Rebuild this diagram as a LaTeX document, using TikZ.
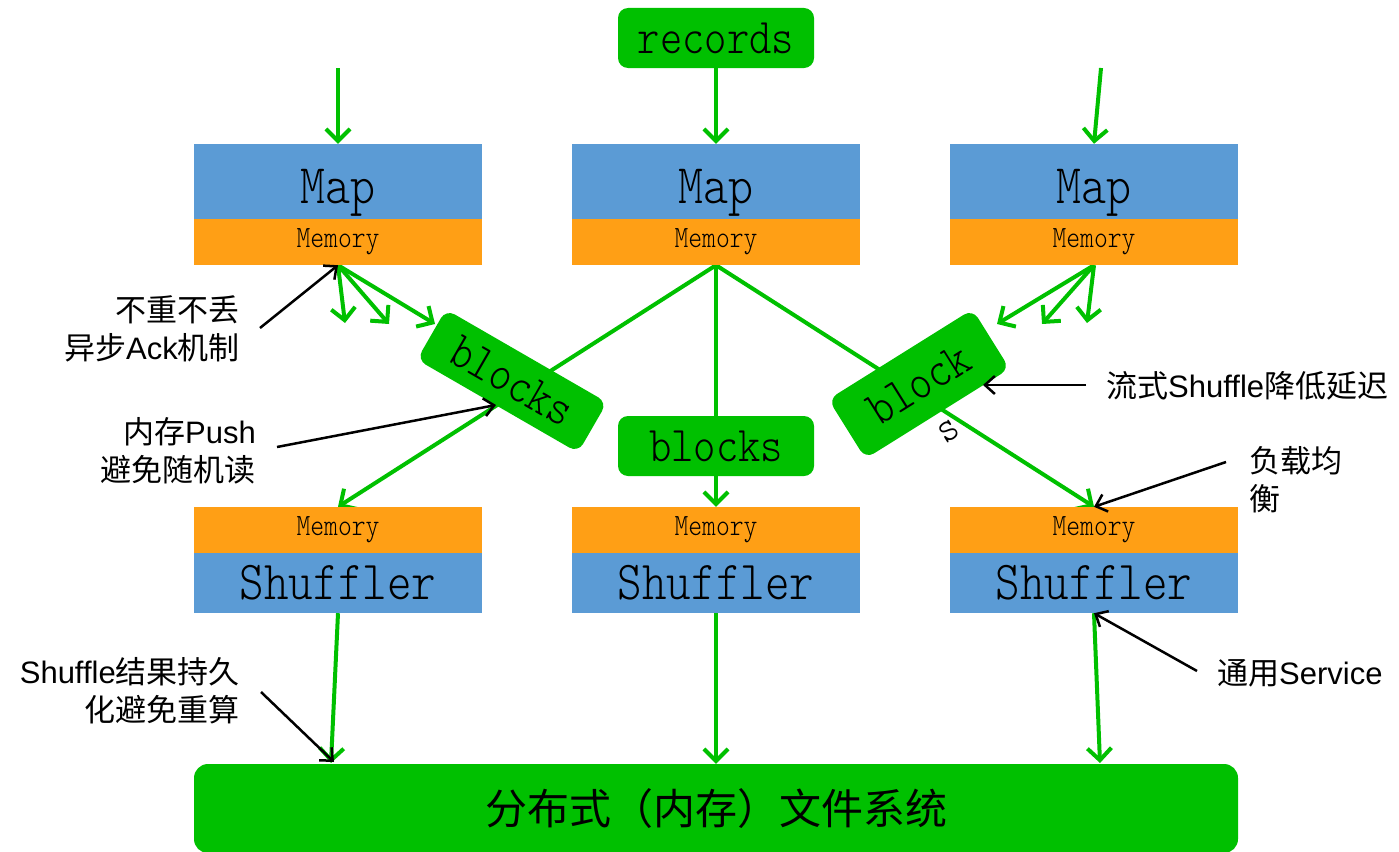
\documentclass[tikz,border=0pt]{standalone}
\usepackage{fontspec}
\setmainfont{Liberation Sans}
\newfontfamily\cjk{Noto Sans CJK SC}
\newfontfamily\boxfont{lmmonolt10-regular.otf}
\usetikzlibrary{arrows.meta,backgrounds}

\definecolor{flowgreen}{HTML}{00C000}
\definecolor{mapblue}{HTML}{5B9BD5}
\definecolor{memorange}{HTML}{FF9F15}

% narrow light typewriter text used inside the boxes
\newcommand{\boxtext}[2]{{\boxfont\fontsize{#1}{#1}\selectfont\scalebox{0.85}[1]{#2}}}

\begin{document}
\begin{tikzpicture}[x=1pt,y=-1pt,
  mapbox/.style={fill=mapblue, minimum width=288pt, minimum height=75pt, inner sep=0pt},
  membox/.style={fill=memorange, minimum width=288pt, minimum height=46pt, inner sep=0pt},
  shufbox/.style={fill=mapblue, minimum width=288pt, minimum height=60pt, inner sep=0pt},
  greenbox/.style={fill=flowgreen, rounded corners=10pt, minimum width=196pt, minimum height=60pt, inner sep=0pt},
  flow/.style={draw=flowgreen, line width=4pt, -{Straight Barb[length=12pt,width=24pt]}},
  note/.style={draw=black, line width=2.5pt, -{Straight Barb[length=10pt,width=18pt]}},
  notetext/.style={inner sep=0pt, font=\fontsize{31}{38}\selectfont}
]
\useasboundingbox (0,0) rectangle (1399,851);

% input records
\node[greenbox] (records) at (716,38) {\boxtext{50}{records}};

% map stages
\foreach \i/\x in {1/338,2/716,3/1094}{
  \node[mapbox] (map\i) at (\x,181.5) {\raisebox{-22pt}[0pt][0pt]{\boxtext{56}{Map}}};
  \node[membox] (mem\i) at (\x,242) {\boxtext{31}{Memory}};
  \node[membox] (smem\i) at (\x,530) {\boxtext{31}{Memory}};
  \node[shufbox] (shuf\i) at (\x,583) {\boxtext{55}{Shuffler}};
}

% blocks in flight
\node[greenbox, rotate=-30, minimum width=186pt, minimum height=58pt] (blkL) at (512,381) {\boxtext{50}{blocks}};
\node[greenbox] (blkM) at (716,446) {\boxtext{50}{blocks}};
\node[greenbox, rotate=32, minimum width=170pt, minimum height=70pt] (blkR) at (919,384) {\boxtext{50}{block}};
\node[rotate=32, inner sep=0pt] (blkRtail) at (949,431) {\boxtext{44}{s}};

% distributed file system
\node[fill=flowgreen, rounded corners=14pt, minimum width=1044pt, minimum height=89pt, inner sep=0pt] (dfs) at (716,808.5)
  {\raisebox{3pt}{\cjk\fontsize{42}{42}\selectfont 分布式（内存）文件系统}};

% free ends of the green flows
\coordinate (inL) at (338,68);
\coordinate (inR) at (1101,68);
\coordinate (f1) at (345,323);
\coordinate (f2) at (389,324);
\coordinate (f3) at (435,324);
\coordinate (f4) at (997,324);
\coordinate (f5) at (1042,324);
\coordinate (f6) at (1087,323);
\coordinate (d1) at (331,763);
\coordinate (d3) at (1100,763);

\begin{pgfonlayer}{background}
  \draw[flow] (inL) -- (map1.north);
  \draw[flow] (records.south) -- (map2.north);
  \draw[flow] (inR) -- (map3.north);
  \draw[flow] (mem1.south) -- (f1);
  \draw[flow] (mem1.south) -- (f2);
  \draw[flow] (mem1.south) -- (f3);
  \draw[flow] (mem3.south) -- (f4);
  \draw[flow] (mem3.south) -- (f5);
  \draw[flow] (mem3.south) -- (f6);
  \draw[flow] (mem2.south) -- (smem1.north);
  \draw[flow] (mem2.south) -- (smem2.north);
  \draw[flow] (mem2.south) -- (smem3.north);
  \draw[flow] (shuf1.south) -- (d1);
  \draw[flow] (shuf2.south) -- (dfs.north);
  \draw[flow] (shuf3.south) -- (d3);
\end{pgfonlayer}

% annotations
\node[notetext, anchor=east, align=right] (n1) at (240,329) {{\cjk 不重不丢}\\{\cjk 异步}Ack{\cjk 机制}};
\node[notetext, anchor=east, align=right] (n2) at (256,451) {{\cjk 内存}Push\\{\cjk 避免随机读}};
\node[notetext, anchor=west] (n3) at (1106,386) {{\cjk 流式}Shuffle{\cjk 降低延迟}};
\node[notetext, anchor=west, align=left] (n4) at (1249,480) {{\cjk 负载均}\\{\cjk 衡}};
\node[notetext, anchor=west] (n5) at (1217,673) {{\cjk 通用}Service};
\node[notetext, anchor=east, align=right] (n6) at (240,691) {Shuffle{\cjk 结果持久}\\{\cjk 化避免重算}};

\coordinate (n1a) at (260,328);
\coordinate (n2a) at (277,447);
\coordinate (n2b) at (496,405);
\coordinate (n3a) at (1086,385);
\coordinate (n3b) at (983,385);
\coordinate (n4a) at (1226,462);
\coordinate (n5a) at (1197,671);
\coordinate (n6a) at (261,692);
\coordinate (n6b) at (334,762);

\draw[note] (n1a) -- (mem1.south);
\draw[note] (n2a) -- (n2b);
\draw[note] (n3a) -- (n3b);
\draw[note] (n4a) -- (smem3.north);
\draw[note] (n5a) -- (shuf3.south);
\draw[note] (n6a) -- (n6b);
\end{tikzpicture}
\end{document}
